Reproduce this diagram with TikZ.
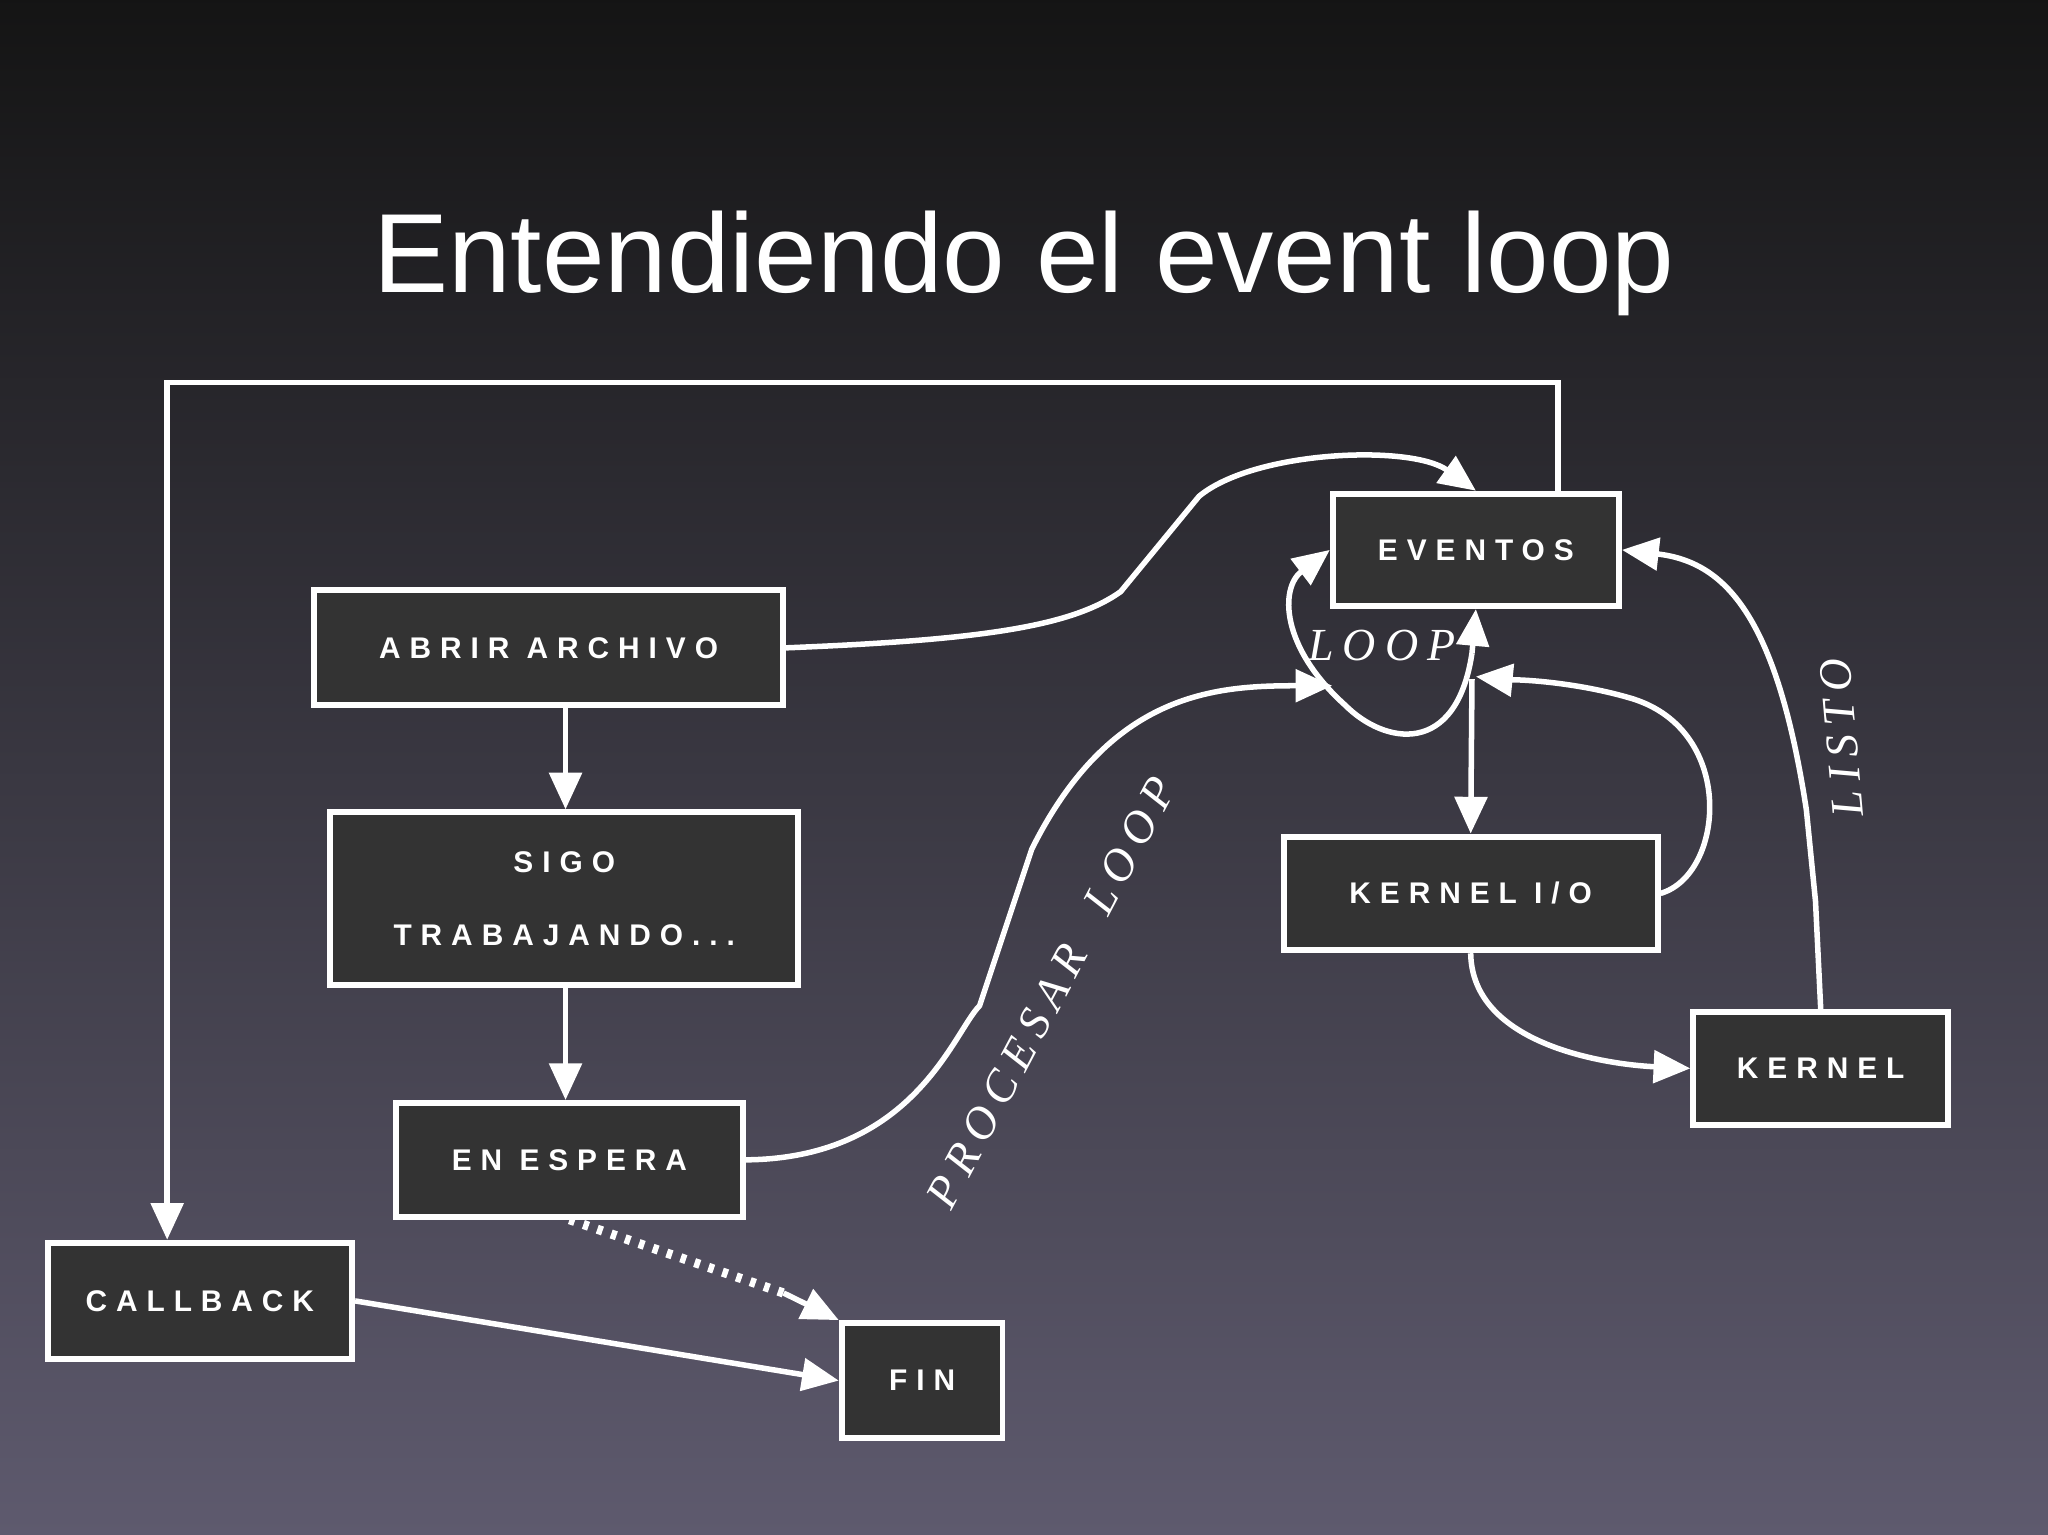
\documentclass[tikz,border=0pt]{standalone}
\usepackage{fontspec}
\setmainfont{Liberation Sans}
\newfontfamily\boxfont[LetterSpace=30]{Liberation Sans Bold}
\newfontfamily\labfont[LetterSpace=20]{Liberation Serif}
\usetikzlibrary{arrows.meta}
\begin{document}
\begin{tikzpicture}[x=0.01cm,y=-0.01cm,
  bx/.style={draw=white,line width=1.3pt,fill=black!80,text=white,font=\boxfont\fontsize{6.5}{14}\selectfont,inner sep=0pt},
  ar/.style={draw=white,line width=1.2pt,-{Triangle[open,fill=white,length=8pt,width=7pt]}},
  ln/.style={draw=white,line width=1.2pt},
  lab/.style={text=white,font=\labfont\itshape\fontsize{10}{12}\selectfont}]
\shade[top color=black!92,bottom color={rgb,255:red,94;green,90;blue,110}] (0,0) rectangle (1568,1175);
\useasboundingbox (0,0) rectangle (1568,1175);
\node[text=white,font=\fontsize{24.5}{30}\selectfont] (title) at (784,202) {Entendiendo el event loop};
\node[bx,minimum width=2.19cm,minimum height=0.86cm] (ev) at (1130,421) {EVENTOS};
\node[bx,minimum width=3.59cm,minimum height=0.88cm] (ab) at (420,496) {ABRIR ARCHIVO};
\node[bx,minimum width=3.58cm,minimum height=1.32cm,align=center] (sg) at (432,688) {SIGO\\[2pt]TRABAJANDO...};
\node[bx,minimum width=2.65cm,minimum height=0.87cm] (es) at (436,888) {EN ESPERA};
\node[bx,minimum width=2.33cm,minimum height=0.89cm] (cb) at (153,996) {CALLBACK};
\node[bx,minimum width=1.23cm,minimum height=0.88cm] (fin) at (706,1057) {FIN};
\node[bx,minimum width=2.86cm,minimum height=0.87cm] (kio) at (1126,684) {KERNEL I/O};
\node[bx,minimum width=1.95cm,minimum height=0.86cm] (kr) at (1394,818) {KERNEL};
\coordinate (t1) at (1193,293);
\coordinate (t2) at (128,293);
\coordinate (vx) at (433,0);
\draw[ar] (ev.north -| t1) -- (t1) -- (t2) -- (cb.north -| t2);
\draw[ar] (ab.east) .. controls (750,490) and (820,480) .. (858,453) -- (918,380) .. controls (960,345) and (1080,340) .. (ev.north);
\draw[ar] (ab.south -| vx) -- (sg.north -| vx);
\draw[ar] (sg.south -| vx) -- (es.north -| vx);
\draw[ar] (es.east) .. controls (700,887) and (730,790) .. (750,770) -- (790,650) .. controls (850,530) and (930,525) .. (1020,525);
\node[lab,rotate=62] (pl) at (805,760) {PROCESAR\ \ LOOP};
\draw[ln,dotted,line width=2pt] (es.south) -- (600,990);
\draw[ar] (600,990) -- (fin.north west);
\draw[ar] (cb.east) -- (fin.west);
\draw[ar] (1127,500) .. controls (1115,580) and (1060,570) .. (1030,540) .. controls (980,495) and (980,450) .. (ev.west);
\draw[ar] (1127,500) -- (ev.south);
\node[lab] (lp) at (1058,494) {LOOP};
\draw[ar] (1127,520) -- (kio.north);
\draw[ar] (kio.east) .. controls (1320,670) and (1330,560) .. (1250,535) .. controls (1200,520) and (1150,520) .. (1130,518);
\draw[ar] (kio.south) .. controls (1127,800) and (1230,815) .. (kr.west);
\draw[ar] (kr.north) -- (1390,690) -- (1383,620) .. controls (1360,470) and (1320,430) .. (ev.east);
\node[lab,rotate=95] (ok) at (1410,565) {LISTO};
\end{tikzpicture}
\end{document}
